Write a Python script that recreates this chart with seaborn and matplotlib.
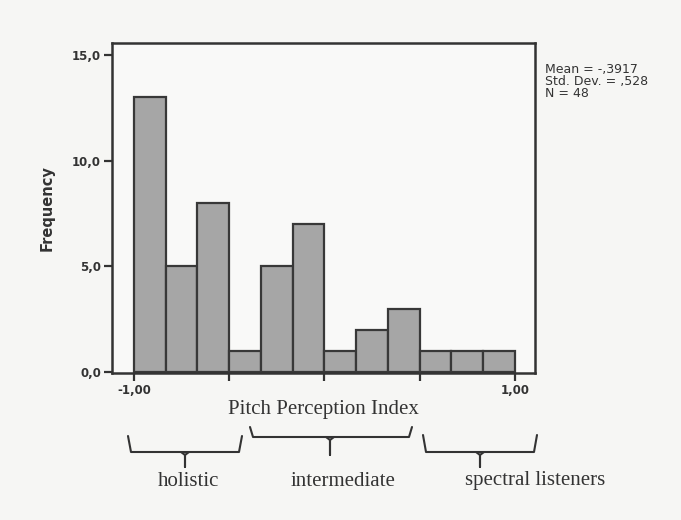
import numpy as np
import pandas as pd
import matplotlib
matplotlib.use("Agg")
import matplotlib.pyplot as plt
import seaborn as sns

# histogram of the pitch perception index (12 bins from -1 to 1)
bin_edges = [-1.0, -0.8333, -0.6667, -0.5, -0.3333, -0.1667, 0.0,
             0.1667, 0.3333, 0.5, 0.6667, 0.8333, 1.0]
counts = [13, 5, 8, 1, 5, 7, 1, 2, 3, 1, 1, 1]
y_ticks = [0, 5, 10, 15]
y_tick_labels = ["0,0", "5,0", "10,0", "15,0"]
x_ticks = [-1.0, -0.5, 0.0, 0.5, 1.0]
x_tick_labels = ["-1,00", "", "", "", "1,00"]
stats_text = "Mean = -,3917\nStd. Dev. = ,528\nN = 48"
groups = ["holistic", "intermediate", "spectral listeners"]

centers = [(a + b) / 2 for a, b in zip(bin_edges[:-1], bin_edges[1:])]
df = pd.DataFrame({"index": centers, "count": counts})

sns.set_style("white")
plt.rcParams["font.family"] = ["DejaVu Sans"]

fig = plt.figure(figsize=(6.81, 5.2), dpi=100, facecolor="#f6f6f4")
ax = fig.add_axes([0.1645, 0.2827, 0.6211, 0.6346])
ax.set_facecolor("#f9f9f8")

sns.histplot(data=df, x="index", weights="count", bins=bin_edges, ax=ax,
             color="#a6a6a6", alpha=1.0, edgecolor="#383838", linewidth=1.6)

ax.set_xlim(-1.115, 1.105)
ax.set_ylim(-0.05, 15.57)
ax.set_yticks(y_ticks)
ax.set_yticklabels(y_tick_labels, fontsize=8.5, color="#333333", fontweight="bold")
ax.set_xticks(x_ticks)
ax.set_xticklabels(x_tick_labels, fontsize=8.5, color="#333333", fontweight="bold")
ax.tick_params(axis="both", direction="out", length=6, width=1.6, color="#333333",
               left=True, bottom=True, pad=2)
for s in ax.spines.values():
    s.set_visible(True)
    s.set_color("#333333")
    s.set_linewidth(1.8)

ax.set_xlabel("Pitch Perception Index", family="Liberation Serif", fontsize=15,
              color="#333333", labelpad=2)
ax.set_ylabel("Frequency", fontsize=10.5, fontweight="bold", color="#333333",
              labelpad=12)

fig.text(545 / 681, 1 - 63 / 520, stats_text, fontsize=9, color="#333333",
         va="top", ha="left", linespacing=0.9)

# braces below the axis, drawn on an overlay in pixel coordinates
ov = fig.add_axes([0, 0, 1, 1], facecolor="none")
ov.set_xlim(0, 681)
ov.set_ylim(520, 0)
ov.axis("off")
braces = [(128, 242, 436, 452, 467, 185),
          (250, 412, 427, 437, 455, 330),
          (423, 537, 435, 452, 467, 480)]
for (x0, x1, ytop, yline, ytip, xtip) in braces:
    ov.plot([x0, x0 + 3, x1 - 3, x1], [ytop, yline, yline, ytop],
            color="#333333", lw=1.5, solid_joinstyle="round")
    ov.plot([xtip - 4, xtip, xtip, xtip, xtip + 4],
            [yline, yline + 3, ytip, yline + 3, yline],
            color="#333333", lw=1.5)
label_x = [188, 343, 535]
for name, lx in zip(groups, label_x):
    ov.text(lx, 481, name, family="Liberation Serif", fontsize=15,
            color="#333333", ha="center", va="center")

fig.savefig("out.png", dpi=100, facecolor=fig.get_facecolor())
